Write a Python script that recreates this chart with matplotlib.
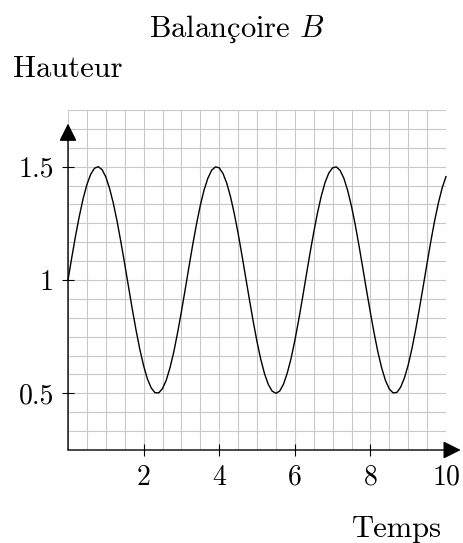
import matplotlib
matplotlib.use("Agg")
import matplotlib.pyplot as plt
from matplotlib.ticker import MultipleLocator

plt.rcParams['font.family'] = ['cmr10', 'DejaVu Serif']
plt.rcParams['mathtext.fontset'] = 'cm'
plt.rcParams['axes.formatter.use_mathtext'] = True

# hauteur de la balançoire B (pas de 0.1)
temps = [0.0, 0.1, 0.2, 0.3, 0.4, 0.5, 0.6, 0.7, 0.8, 0.9,
         1.0, 1.1, 1.2, 1.3, 1.4, 1.5, 1.6, 1.7, 1.8, 1.9,
         2.0, 2.1, 2.2, 2.3, 2.4, 2.5, 2.6, 2.7, 2.8, 2.9,
         3.0, 3.1, 3.2, 3.3, 3.4, 3.5, 3.6, 3.7, 3.8, 3.9,
         4.0, 4.1, 4.2, 4.3, 4.4, 4.5, 4.6, 4.7, 4.8, 4.9,
         5.0, 5.1, 5.2, 5.3, 5.4, 5.5, 5.6, 5.7, 5.8, 5.9,
         6.0, 6.1, 6.2, 6.3, 6.4, 6.5, 6.6, 6.7, 6.8, 6.9,
         7.0, 7.1, 7.2, 7.3, 7.4, 7.5, 7.6, 7.7, 7.8, 7.9,
         8.0, 8.1, 8.2, 8.3, 8.4, 8.5, 8.6, 8.7, 8.8, 8.9,
         9.0, 9.1, 9.2, 9.3, 9.4, 9.5, 9.6, 9.7, 9.8, 9.9,
         10.0]
hauteur = [1.000, 1.099, 1.195, 1.282, 1.359, 1.421, 1.466, 1.493, 1.500, 1.487,
           1.455, 1.404, 1.338, 1.258, 1.167, 1.071, 0.971, 0.872, 0.779, 0.694,
           0.622, 0.564, 0.524, 0.503, 0.502, 0.521, 0.558, 0.614, 0.684, 0.768,
           0.860, 0.958, 1.058, 1.156, 1.247, 1.329, 1.397, 1.449, 1.484, 1.499,
           1.495, 1.470, 1.427, 1.367, 1.292, 1.206, 1.111, 1.012, 0.913, 0.817,
           0.728, 0.650, 0.586, 0.539, 0.510, 0.500, 0.510, 0.540, 0.589, 0.653,
           0.732, 0.821, 0.917, 1.017, 1.116, 1.210, 1.296, 1.370, 1.430, 1.472,
           1.495, 1.499, 1.483, 1.448, 1.394, 1.325, 1.243, 1.150, 1.052, 0.952,
           0.856, 0.764, 0.681, 0.611, 0.556, 0.519, 0.502, 0.504, 0.527, 0.568,
           0.625, 0.698, 0.783, 0.877, 0.975, 1.075, 1.172, 1.262, 1.341, 1.407,
           1.456]

xticks = [2, 4, 6, 8, 10]
yticks = [0.5, 1, 1.5]
ytick_labels = ['0.5', '1', '1.5']

fig = plt.figure(figsize=(4.63, 5.43), dpi=100)
ax = fig.add_axes([68/463, 93/543, 378/463, 340/543])
ax.set_xlim(0, 10)
ax.set_ylim(0.25, 1.75)
for s in ax.spines.values():
    s.set_visible(False)

ax.xaxis.set_minor_locator(MultipleLocator(0.5))
ax.yaxis.set_minor_locator(MultipleLocator(1/12))
ax.grid(which='both', color='#c8c8c8', lw=0.8)
ax.set_axisbelow(True)

ax.set_xticks(xticks)
ax.set_xticklabels([str(v) for v in xticks])
ax.set_yticks(yticks)
ax.set_yticklabels(ytick_labels)
ax.tick_params(which='major', direction='inout', length=8.5, width=0.8,
               labelsize=20, pad=6)
ax.tick_params(which='minor', length=0)

ax.plot(temps, hauteur, color='black', lw=1.0, clip_on=False)

# axes avec flèches
arrow = dict(arrowstyle='-|>,head_length=0.6,head_width=0.3', color='black',
             lw=1.0, shrinkA=0, shrinkB=0, mutation_scale=18)
ax.annotate('', xy=(10.39, 0.25), xytext=(0, 0.25), arrowprops=arrow,
            annotation_clip=False)
ax.annotate('', xy=(0, 1.69), xytext=(0, 0.25), arrowprops=arrow,
            annotation_clip=False)

# titre : cmr10 n'a pas de "ç", on pose une cédille sous le "c"
title_x, title_y = 236.5, 1 - 37/543
title = fig.text(title_x/463, title_y, 'Balancoire $B$', ha='center',
                 va='baseline', fontsize=22)
fig.canvas.draw()
r = fig.canvas.get_renderer()
full_w = title.get_window_extent(r).width
tmp = fig.text(0, 0, 'Balan', fontsize=22)
w1 = tmp.get_window_extent(r).width
tmp.set_text('c')
wc = tmp.get_window_extent(r).width
tmp.remove()
cx = title_x - full_w/2 + w1 + wc/2
fig.text(cx/463, title_y, '\u00b8', ha='center', va='baseline', fontsize=21,
         family=['Liberation Serif'])

fig.text(13/463, 1 - 77/543, 'Hauteur', ha='left', va='baseline', fontsize=22)
fig.text(442/463, 1 - 537/543, 'Temps', ha='right', va='baseline', fontsize=22)

fig.savefig('out.png', dpi=100)
